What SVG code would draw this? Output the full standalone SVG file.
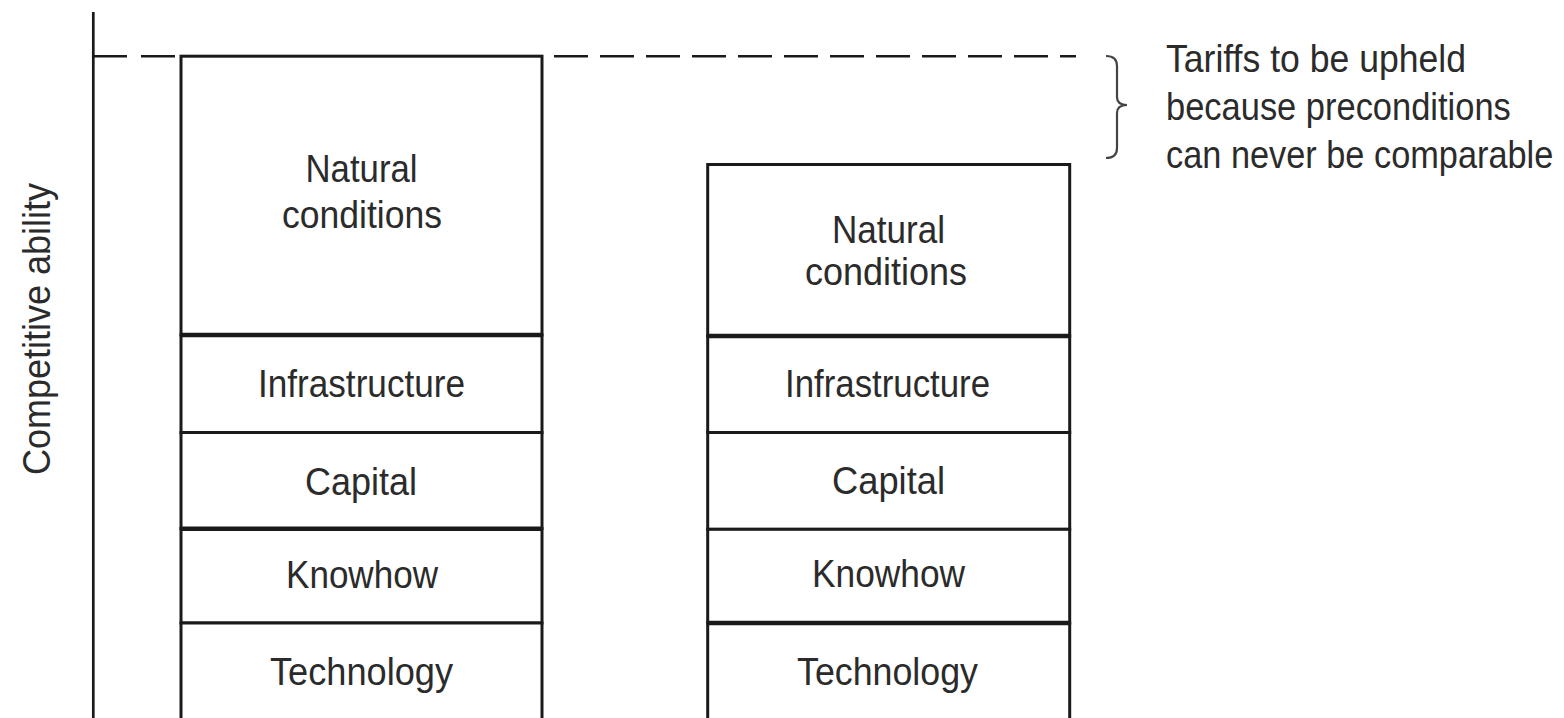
<svg xmlns="http://www.w3.org/2000/svg" width="1564" height="718" viewBox="0 0 1564 718">
<style>
.cell{fill:#ffffff;stroke:#1a1a1a;stroke-width:3}
.thick{stroke:#1a1a1a;stroke-width:4.5}
.lbl{font-family:"Liberation Sans",Arial,sans-serif;font-size:38px;fill:#2b2b2b;text-anchor:middle}
.note{font-family:"Liberation Sans",Arial,sans-serif;font-size:38px;fill:#2b2b2b}
.axis{stroke:#1a1a1a;stroke-width:2.7;fill:none}
.dash{stroke:#1a1a1a;stroke-width:2.4;fill:none;stroke-dasharray:34 12}
.brace{stroke:#444;stroke-width:2.2;fill:none}
</style>
<rect width="1564" height="718" fill="#ffffff"/>
<g id="axis">
<line class="axis" x1="93.3" y1="12" x2="93.3" y2="718"/>
<text class="lbl" transform="translate(50,329) rotate(-90)" textLength="292" lengthAdjust="spacingAndGlyphs">Competitive ability</text>
</g>
<g id="connectors">
<line class="dash" x1="93" y1="56.2" x2="181" y2="56.2" style="stroke-dasharray:34 14"/>
<line class="dash" x1="554" y1="56.2" x2="1076" y2="56.2"/>
<path class="brace" d="M1106,56 Q1117,56 1117,66 L1117,97 Q1117,105 1127,105 Q1117,105 1117,113 L1117,148 Q1117,158 1106,158"/>
</g>
<g id="left-column">
<g id="left-natural"><rect class="cell" x="181" y="56.2" width="361" height="278.8"/>
<text class="lbl" x="361.5" y="182" textLength="112" lengthAdjust="spacingAndGlyphs">Natural</text>
<text class="lbl" x="362" y="228" textLength="160" lengthAdjust="spacingAndGlyphs">conditions</text></g>
<g id="left-infrastructure"><rect class="cell" x="181" y="335" width="361" height="97.5"/>
<text class="lbl" x="361.5" y="397" textLength="207" lengthAdjust="spacingAndGlyphs">Infrastructure</text></g>
<g id="left-capital"><rect class="cell" x="181" y="432.5" width="361" height="96"/>
<text class="lbl" x="361" y="495" textLength="112" lengthAdjust="spacingAndGlyphs">Capital</text></g>
<g id="left-knowhow"><rect class="cell" x="181" y="528.5" width="361" height="94.5"/>
<text class="lbl" x="362" y="588" textLength="152" lengthAdjust="spacingAndGlyphs">Knowhow</text></g>
<g id="left-technology"><rect class="cell" x="181" y="623" width="361" height="120"/>
<text class="lbl" x="361.5" y="685" textLength="183" lengthAdjust="spacingAndGlyphs">Technology</text></g>
<line class="thick" x1="181" y1="335" x2="542" y2="335"/>
<line class="thick" x1="181" y1="528.7" x2="542" y2="528.7"/>
</g>
<g id="right-column">
<g id="right-natural"><rect class="cell" x="707.7" y="164.5" width="362" height="171.5"/>
<text class="lbl" x="888.5" y="243" textLength="113" lengthAdjust="spacingAndGlyphs">Natural</text>
<text class="lbl" x="886" y="285" textLength="162" lengthAdjust="spacingAndGlyphs">conditions</text></g>
<g id="right-infrastructure"><rect class="cell" x="707.7" y="336" width="362" height="96.5"/>
<text class="lbl" x="887.5" y="397" textLength="205" lengthAdjust="spacingAndGlyphs">Infrastructure</text></g>
<g id="right-capital"><rect class="cell" x="707.7" y="432.5" width="362" height="96.8"/>
<text class="lbl" x="888.5" y="494" textLength="113" lengthAdjust="spacingAndGlyphs">Capital</text></g>
<g id="right-knowhow"><rect class="cell" x="707.7" y="529.3" width="362" height="93.7"/>
<text class="lbl" x="888.5" y="587" textLength="153" lengthAdjust="spacingAndGlyphs">Knowhow</text></g>
<g id="right-technology"><rect class="cell" x="707.7" y="623" width="362" height="120"/>
<text class="lbl" x="887.5" y="685" textLength="181" lengthAdjust="spacingAndGlyphs">Technology</text></g>
<line class="thick" x1="707.7" y1="336" x2="1069.7" y2="336"/>
<line class="thick" x1="707.7" y1="623" x2="1069.7" y2="623"/>
</g>
<g id="annotation" transform="translate(1166,0) scale(0.905,1)">
<text class="note" x="0" y="72" textLength="331.5" lengthAdjust="spacingAndGlyphs">Tariffs to be upheld</text>
<text class="note" x="0" y="120" textLength="381" lengthAdjust="spacingAndGlyphs">because preconditions</text>
<text class="note" x="0" y="168" textLength="428" lengthAdjust="spacingAndGlyphs">can never be comparable</text>
</g>
</svg>
